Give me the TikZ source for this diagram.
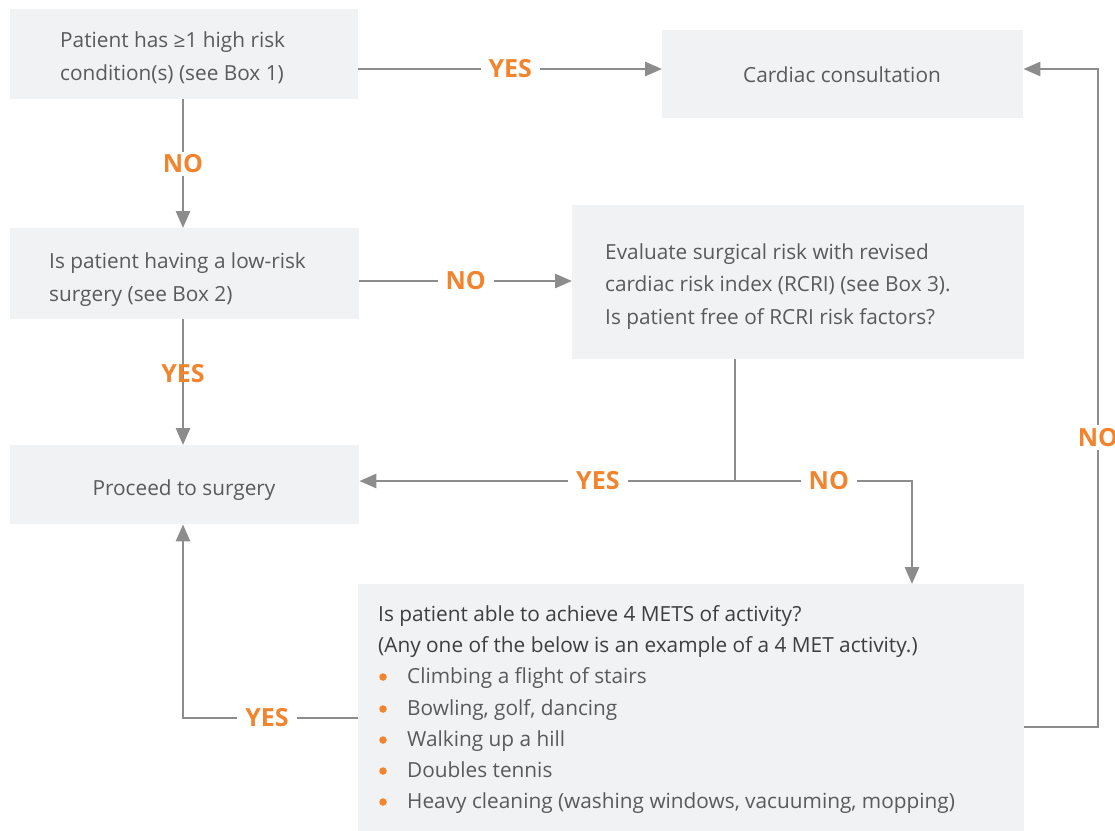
\documentclass[tikz,border=0pt]{standalone}
\usepackage{fontspec}
\setmainfont{Open Sans}
\usetikzlibrary{arrows.meta}
\definecolor{boxfill}{HTML}{F1F2F4}
\definecolor{txt}{HTML}{5A5A5C}
\definecolor{txtdark}{HTML}{3E3E40}
\definecolor{orng}{HTML}{F3842E}
\definecolor{lin}{HTML}{8C8C8C}
\tikzset{
  box/.style={fill=boxfill, draw=none, inner sep=0pt, anchor=north west},
  body/.style={text=txt, font=\fontsize{20.8}{33}\selectfont, inner sep=0pt, align=left},
  bodydark/.style={text=txtdark, font=\fontsize{20.8}{33}\selectfont, inner sep=0pt},
  lbl/.style={text=orng, font=\fontsize{25}{28}\selectfont\bfseries, inner sep=0pt},
  gaplbl/.style={lbl, fill=white, inner xsep=8pt, inner ysep=3pt},
  conn/.style={draw=lin, line width=2.8pt},
  arr/.style={conn, -{Triangle[length=17pt,width=14pt]}},
  bul/.style={fill=orng, circle, inner sep=0pt, minimum size=7.5pt}
}
\begin{document}
\begin{tikzpicture}[x=1pt,y=-1pt]
\useasboundingbox (0,0) rectangle (1115,830);
\clip (0,0) rectangle (1115,830);
% boxes
\node[box, minimum width=348pt, minimum height=90pt] (b1) at (10,9) {};
\node[box, minimum width=361pt, minimum height=88pt] (cc) at (662,30) {};
\node[box, minimum width=349pt, minimum height=91pt] (b2) at (10,228) {};
\node[box, minimum width=452pt, minimum height=154pt] (ev) at (572,205) {};
\node[box, minimum width=349pt, minimum height=79pt] (pr) at (10,445) {};
\node[box, minimum width=666pt, minimum height=250pt] (mt) at (358,584) {};
% texts (base anchor = baseline of the last line)
\node[body, anchor=base west] (t1) at (60,80) {Patient has ≥1 high risk\\condition(s) (see Box 1)};
\node[body, anchor=base] (tcc) at (842,82) {Cardiac consultation};
\node[body, anchor=base west] (t2) at (49,301) {Is patient having a low-risk\\surgery (see Box 2)};
\node[body, anchor=base west, font=\fontsize{20.8}{32.5}\selectfont] (tev) at (605,324) {Evaluate surgical risk with revised\\cardiac risk index (RCRI) (see Box 3).\\Is patient free of RCRI risk factors?};
\node[body, anchor=base] (tpr) at (184,495) {Proceed to surgery};
\node[bodydark, anchor=base west] (m1) at (378,621) {Is patient able to achieve 4 METS of activity?};
\node[bodydark, anchor=base west] (m2) at (378,652) {(Any one of the below is an example of a 4 MET activity.)};
\node[bul] (k1) at (383,677) {};
\node[bul] (k2) at (383,709) {};
\node[bul] (k3) at (383,740) {};
\node[bul] (k4) at (383,771) {};
\node[bul] (k5) at (383,802) {};
\node[body, anchor=base west] (i1) at (407,683) {Climbing a flight of stairs};
\node[body, anchor=base west] (i2) at (407,715) {Bowling, golf, dancing};
\node[body, anchor=base west] (i3) at (407,746) {Walking up a hill};
\node[body, anchor=base west] (i4) at (407,777) {Doubles tennis};
\node[body, anchor=base west] (i5) at (407,808) {Heavy cleaning (washing windows, vacuuming, mopping)};
% junction / corner coordinates
\coordinate (j) at (735,481);
\coordinate (c1) at (912,481);
\coordinate (c2) at (183,718);
\coordinate (c3) at (1098,727);
\coordinate (c4) at (1098,69);
% connectors
\draw[arr] (b1.east |- 0,69) -- node[gaplbl] (l1) {YES} (cc.west |- 0,69);
\draw[arr] (b1.south -| 183,0) -- node[gaplbl] (l2) {NO} (b2.north -| 183,0);
\draw[arr] (b2.east |- 0,281) -- node[gaplbl] (l3) {NO} (ev.west |- 0,281);
\draw[arr] (b2.south -| 183,0) -- node[lbl, pos=0.43] (l4) {YES} (pr.north -| 183,0);
\draw[conn] (ev.south -| j) -- (j);
\draw[arr] (j) -- node[gaplbl, pos=0.365] (l5) {YES} (pr.east |- j);
\draw[arr] (j) -- node[gaplbl, pos=0.53] (l6) {NO} (c1) -- (mt.north -| c1);
\draw[arr] (mt.west |- c2) -- node[gaplbl, pos=0.52] (l7) {YES} (c2) -- (pr.south -| c2);
\draw[arr] (mt.east |- c3) -- (c3) -- node[gaplbl, pos=0.44] (l8) {NO} (c4) -- (cc.east |- c4);
\end{tikzpicture}
\end{document}
